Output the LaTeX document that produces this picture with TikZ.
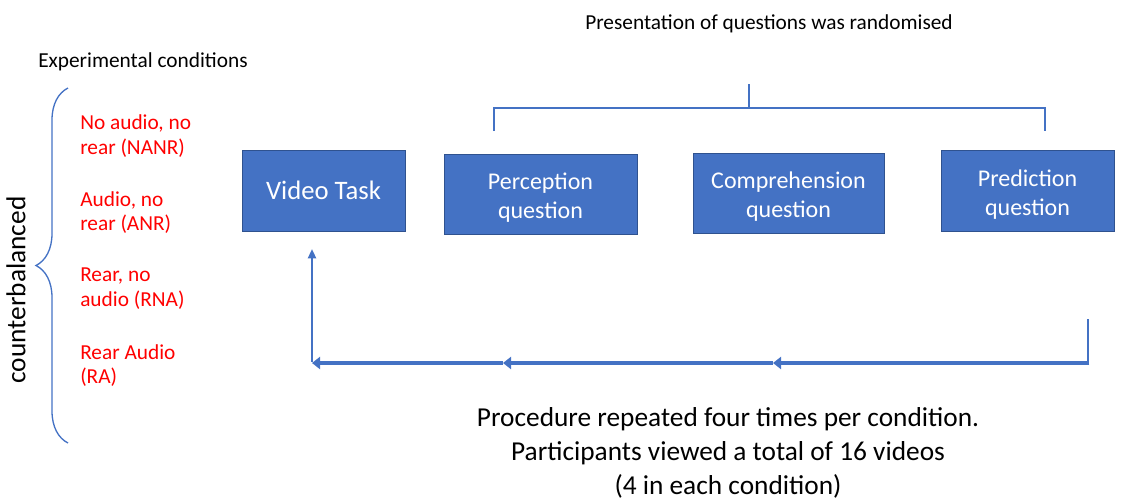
\documentclass[tikz,border=0pt]{standalone}
\usepackage{fontspec}
\setmainfont{Carlito}
\usepackage{tikz}
\usetikzlibrary{arrows.meta,positioning,decorations.pathreplacing}
\definecolor{boxblue}{RGB}{68,114,196}
\definecolor{boxedge}{RGB}{47,82,143}
\definecolor{condred}{RGB}{255,0,0}
\tikzstyle{arrow} = [line width=2.4pt,-{Triangle[length=6pt,width=9pt]},color=boxblue]
\tikzstyle{uparrow} = [line width=1.6pt,-{Triangle[length=7pt,width=6pt]},color=boxblue]

\begin{document}
\begin{tikzpicture}[
    x=0.75pt, y=-0.75pt,
    task/.style={rectangle, draw=boxedge, fill=boxblue, text=white, minimum height=60pt, align=center, font=\fontsize{18}{21.75}\selectfont},
    cond/.style={anchor=west, inner sep=0pt, align=left, text=condred, font=\fontsize{16}{18.6}\selectfont},
    label/.style={inner sep=0pt, font=\fontsize{16}{19}\selectfont}
]
\useasboundingbox (0,0) rectangle (1125,500);

% Headings
\node[label, anchor=west] (expt) at (38,62) {Experimental conditions};
\node[label] (present) at (769,24) {Presentation of questions was randomised};

% Conditions (left)
\node[inner sep=0pt, rotate=90, font=\fontsize{20.5}{24}\selectfont] (cbal) at (16,290) {counterbalanced};
\node[cond] (nanr) at (80,136) {No audio, no\\rear (NANR)};
\node[cond] (anr) at (80,212.5) {Audio, no\\rear (ANR)};
\node[cond] (rna) at (80,288.5) {Rear, no\\audio (RNA)};
\node[cond] (ra) at (80,365.5) {Rear Audio\\(RA)};
\coordinate (brtop) at (68,88);
\coordinate (brbot) at (68,443);

% Procedure boxes
\node[task, minimum width=122pt, minimum height=61pt, font=\fontsize{20}{24}\selectfont] (video) at (323.5,190.5) {Video Task};
\node[task, minimum width=145pt] (percep) at (540.5,194) {\rule{0pt}{18pt}Perception\\question};
\node[task, minimum width=143pt] (compreh) at (788.5,193) {\rule{0pt}{18pt}Comprehension\\question};
\node[task, minimum width=130pt, minimum height=61pt] (predict) at (1027.5,190.5) {\rule{0pt}{18pt}Prediction\\question};

% Randomised bracket
\coordinate (rleft) at (494,131);
\coordinate (rright) at (1045,131);
\coordinate (rmid) at (749,108);
\coordinate (rtop) at (749,84);

% Loop back
\coordinate (lstart) at (1088,319);
\coordinate (lcorner) at (1088,363);
\coordinate (lmid1) at (773,363);
\coordinate (lmid2) at (503,363);
\coordinate (lleft) at (312,363);
\coordinate (ltip) at (312,249);

\node[align=center, inner sep=0pt, font=\fontsize{20.5}{25.5}\selectfont] (repeat) at (728,453) {Procedure repeated four times per condition.\\Participants viewed a total of 16 videos\\(4 in each condition)};

% Lines
\draw[boxblue, line width=1pt, decorate, decoration={brace, amplitude=24pt, aspect=0.5}] (brbot) -- (brtop);
\draw[boxblue, line width=1.2pt] (rleft) |- (rmid) -| (rright);
\draw[boxblue, line width=1.6pt] (rmid) -- (rtop);
\draw[boxblue, line width=2pt] (lstart) -- (lcorner);
\draw[arrow] ([xshift=1pt]lcorner) -- (lmid1);
\draw[arrow] (lmid1) -- (lmid2);
\draw[arrow] (lmid2) -- (lleft);
\draw[uparrow] ([yshift=1pt]lleft) -- (ltip);

\end{tikzpicture}
\end{document}
